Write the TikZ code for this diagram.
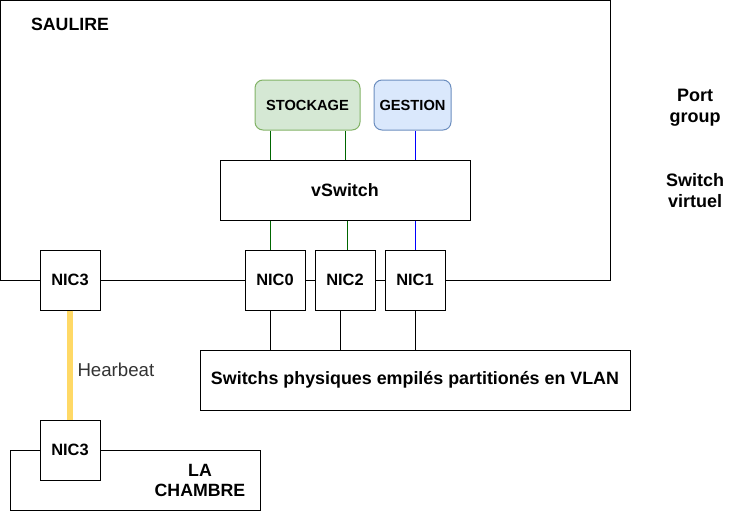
\documentclass[tikz,border=0pt]{standalone}
\usepackage{fontspec}
\setmainfont{Liberation Sans}
\usepackage{tikz}

\definecolor{vertfond}{HTML}{D5E8D4}
\definecolor{verttrait}{HTML}{82B366}
\definecolor{bleufond}{HTML}{DAE8FC}
\definecolor{bleutrait}{HTML}{6C8EBF}
\definecolor{vertlien}{HTML}{006600}
\definecolor{bleulien}{HTML}{0000FF}
\definecolor{jaune}{HTML}{FFD966}
\definecolor{gristexte}{HTML}{333333}

\begin{document}
\begin{tikzpicture}[x=0.75pt, y=-0.75pt, line width=0.75pt,
    hote/.style={draw, inner sep=0pt},
    nic/.style={draw, fill=white, minimum width=45pt, minimum height=45pt, inner sep=0pt,
        font=\fontsize{12.3}{14}\selectfont\bfseries},
    groupe/.style={draw, rounded corners=6pt, minimum width=#1, minimum height=37.5pt, inner sep=0pt,
        font=\fontsize{11}{13}\selectfont\bfseries},
    boite/.style={draw, fill=white, minimum height=45pt, inner sep=0pt,
        font=\fontsize{13.4}{15}\selectfont\bfseries},
    titre/.style={font=\fontsize{13.3}{15}\selectfont\bfseries, align=center},
    legende/.style={font=\fontsize{13.5}{15.75}\selectfont\bfseries, align=center},
]
\useasboundingbox (0,0) rectangle (741,511);

% hotes
\node[hote, minimum width=457.5pt, minimum height=210pt] (saulire) at (305,140) {};
\node[titre] (nomsaulire) at (70,24) {SAULIRE};
\node[hote, minimum width=187.5pt, minimum height=45pt] (chambre) at (135,480) {};
\node[titre, inner sep=0pt] (nomchambre) at (200,480) {LA\\CHAMBRE};

% port groups et vSwitch
\node[groupe=78.75pt, fill=vertfond, draw=verttrait] (stockage) at (307.5,105) {STOCKAGE};
\node[groupe=57.75pt, fill=bleufond, draw=bleutrait] (gestion) at (412.5,105) {GESTION};
\node[boite, minimum width=187.5pt] (vswitch) at (345,190) {vSwitch};

% cartes reseau
\node[nic] (nic3) at (70,280) {NIC3};
\node[nic] (nic0) at (275,280) {NIC0};
\node[nic] (nic2) at (345,280) {NIC2};
\node[nic] (nic1) at (415,280) {NIC1};
\node[nic] (nic3b) at (70,450) {NIC3};

\node[boite, minimum width=322.5pt] (physique) at (415,380) {Switchs physiques empilés partitionés en VLAN};

% legendes
\node[legende] (portgroup) at (695,108) {Port\\group};
\node[legende] (switchvirtuel) at (695,191) {Switch\\virtuel};

% colonnes des liens
\coordinate (ca) at (270,0);
\coordinate (cb) at (345,0);
\coordinate (cc) at (347,0);
\coordinate (cd) at (415,0);
\coordinate (ce) at (340,0);

\draw[vertlien] (stockage.south -| ca) -- (vswitch.north -| ca);
\draw[vertlien] (stockage.south -| cb) -- (vswitch.north -| cb);
\draw[bleulien] (gestion.south -| cd) -- (vswitch.north -| cd);
\draw[vertlien] (vswitch.south -| ca) -- (nic0.north -| ca);
\draw[vertlien] (vswitch.south -| cc) -- (nic2.north -| cc);
\draw[bleulien] (vswitch.south -| cd) -- (nic1.north -| cd);

\draw (nic0.south -| ca) -- (physique.north -| ca);
\draw (nic2.south -| ce) -- (physique.north -| ce);
\draw (nic1.south -| cd) -- (physique.north -| cd);

% heartbeat
\draw[jaune, line width=4.5pt] (nic3.south) -- (nic3b.north);
\node[anchor=west, text=gristexte, font=\fontsize{14}{16}\selectfont, inner sep=0pt] (hearbeat) at (77,370) {Hearbeat};
\end{tikzpicture}
\end{document}
